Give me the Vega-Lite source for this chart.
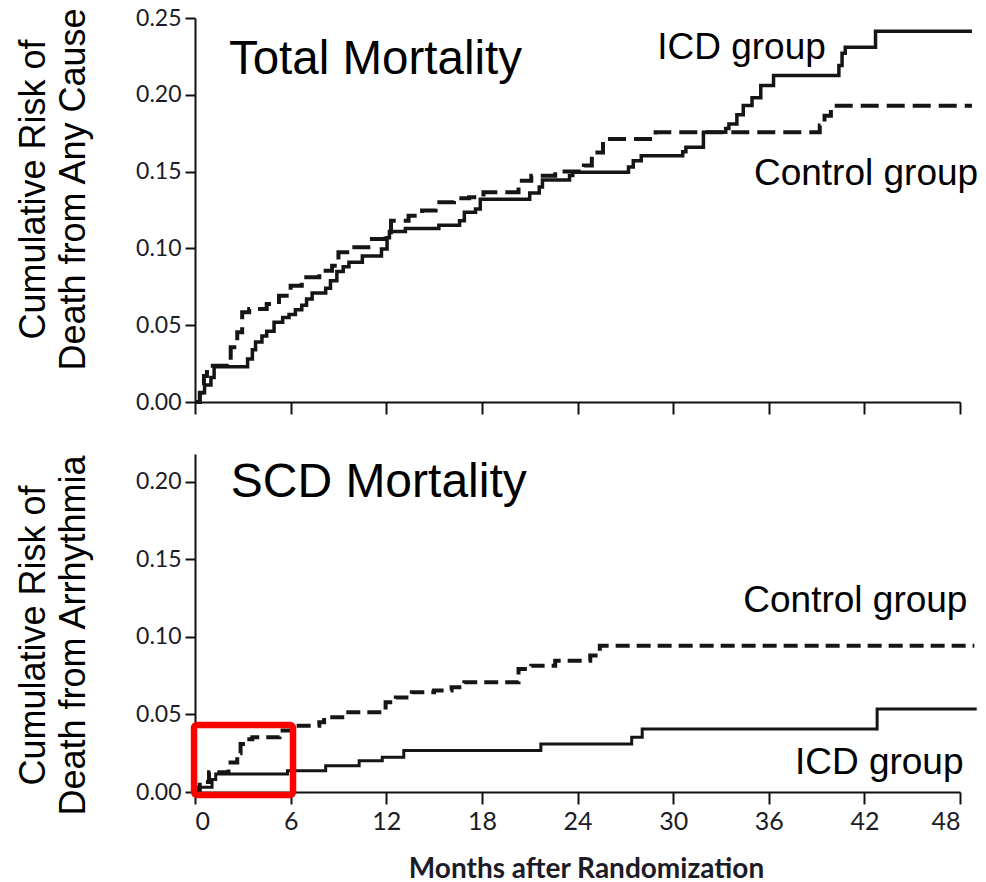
{
  "$schema": "https://vega.github.io/schema/vega-lite/v6.json",
  "background": "white",
  "padding": {"left": 15, "top": 6, "right": 4, "bottom": 0},
  "spacing": 38,
  "config": {
    "view": {"stroke": null},
    "axis": {"domainColor": "#111", "domainWidth": 2, "tickColor": "#111", "tickWidth": 2, "grid": false, "labelFont": "Lato", "labelColor": "#1c1c28"},
    "text": {"font": "Liberation Sans", "color": "#000"}
  },
  "datasets": {
    "total": [
      {"group": "ICD", "month": 0, "risk": 0},
      {"group": "ICD", "month": 0.3, "risk": 0.006},
      {"group": "ICD", "month": 0.6, "risk": 0.011},
      {"group": "ICD", "month": 1.0, "risk": 0.016},
      {"group": "ICD", "month": 1.2, "risk": 0.023},
      {"group": "ICD", "month": 3.3, "risk": 0.028},
      {"group": "ICD", "month": 3.6, "risk": 0.034},
      {"group": "ICD", "month": 3.8, "risk": 0.039},
      {"group": "ICD", "month": 4.2, "risk": 0.043},
      {"group": "ICD", "month": 4.5, "risk": 0.046},
      {"group": "ICD", "month": 4.96, "risk": 0.052},
      {"group": "ICD", "month": 5.5, "risk": 0.055},
      {"group": "ICD", "month": 5.9, "risk": 0.057},
      {"group": "ICD", "month": 6.3, "risk": 0.06},
      {"group": "ICD", "month": 6.7, "risk": 0.063},
      {"group": "ICD", "month": 7.0, "risk": 0.067},
      {"group": "ICD", "month": 7.35, "risk": 0.071},
      {"group": "ICD", "month": 8.2, "risk": 0.074},
      {"group": "ICD", "month": 8.5, "risk": 0.079},
      {"group": "ICD", "month": 8.9, "risk": 0.085},
      {"group": "ICD", "month": 9.3, "risk": 0.088},
      {"group": "ICD", "month": 9.66, "risk": 0.091},
      {"group": "ICD", "month": 10.5, "risk": 0.095},
      {"group": "ICD", "month": 11.7, "risk": 0.0996},
      {"group": "ICD", "month": 12.05, "risk": 0.107},
      {"group": "ICD", "month": 12.2, "risk": 0.111},
      {"group": "ICD", "month": 13.2, "risk": 0.113},
      {"group": "ICD", "month": 15.3, "risk": 0.115},
      {"group": "ICD", "month": 16.6, "risk": 0.118},
      {"group": "ICD", "month": 16.9, "risk": 0.1235},
      {"group": "ICD", "month": 17.6, "risk": 0.1257},
      {"group": "ICD", "month": 17.9, "risk": 0.132},
      {"group": "ICD", "month": 21.0, "risk": 0.136},
      {"group": "ICD", "month": 21.6, "risk": 0.14},
      {"group": "ICD", "month": 21.8, "risk": 0.1445},
      {"group": "ICD", "month": 23.5, "risk": 0.1475},
      {"group": "ICD", "month": 23.7, "risk": 0.1495},
      {"group": "ICD", "month": 27.2, "risk": 0.153},
      {"group": "ICD", "month": 27.5, "risk": 0.157},
      {"group": "ICD", "month": 28.0, "risk": 0.1604},
      {"group": "ICD", "month": 30.6, "risk": 0.163},
      {"group": "ICD", "month": 30.8, "risk": 0.1658},
      {"group": "ICD", "month": 31.9, "risk": 0.1756},
      {"group": "ICD", "month": 33.3, "risk": 0.178},
      {"group": "ICD", "month": 33.5, "risk": 0.181},
      {"group": "ICD", "month": 34.0, "risk": 0.187},
      {"group": "ICD", "month": 34.4, "risk": 0.193},
      {"group": "ICD", "month": 34.95, "risk": 0.198},
      {"group": "ICD", "month": 35.5, "risk": 0.206},
      {"group": "ICD", "month": 36.3, "risk": 0.2125},
      {"group": "ICD", "month": 40.4, "risk": 0.219},
      {"group": "ICD", "month": 40.6, "risk": 0.227},
      {"group": "ICD", "month": 40.8, "risk": 0.2309},
      {"group": "ICD", "month": 42.7, "risk": 0.2413},
      {"group": "ICD", "month": 48.75, "risk": 0.2413},
      {"group": "Control", "month": 0, "risk": 0},
      {"group": "Control", "month": 0.3, "risk": 0.006},
      {"group": "Control", "month": 0.56, "risk": 0.017},
      {"group": "Control", "month": 0.75, "risk": 0.0236},
      {"group": "Control", "month": 2.24, "risk": 0.0356},
      {"group": "Control", "month": 2.65, "risk": 0.0454},
      {"group": "Control", "month": 2.96, "risk": 0.0584},
      {"group": "Control", "month": 3.4, "risk": 0.0605},
      {"group": "Control", "month": 4.5, "risk": 0.0638},
      {"group": "Control", "month": 5.27, "risk": 0.0692},
      {"group": "Control", "month": 6.0, "risk": 0.0757},
      {"group": "Control", "month": 6.7, "risk": 0.0812},
      {"group": "Control", "month": 7.8, "risk": 0.0855},
      {"group": "Control", "month": 8.6, "risk": 0.0887},
      {"group": "Control", "month": 9.0, "risk": 0.0975},
      {"group": "Control", "month": 9.86, "risk": 0.1007},
      {"group": "Control", "month": 11.1, "risk": 0.1061},
      {"group": "Control", "month": 11.95, "risk": 0.1105},
      {"group": "Control", "month": 12.3, "risk": 0.118},
      {"group": "Control", "month": 13.4, "risk": 0.1213},
      {"group": "Control", "month": 14.25, "risk": 0.1246},
      {"group": "Control", "month": 15.1, "risk": 0.13},
      {"group": "Control", "month": 16.25, "risk": 0.1326},
      {"group": "Control", "month": 17.2, "risk": 0.1333},
      {"group": "Control", "month": 18.1, "risk": 0.1365},
      {"group": "Control", "month": 20.3, "risk": 0.144},
      {"group": "Control", "month": 21.1, "risk": 0.1473},
      {"group": "Control", "month": 22.6, "risk": 0.15},
      {"group": "Control", "month": 24.4, "risk": 0.1539},
      {"group": "Control", "month": 24.9, "risk": 0.1625},
      {"group": "Control", "month": 25.6, "risk": 0.1712},
      {"group": "Control", "month": 28.9, "risk": 0.1756},
      {"group": "Control", "month": 39.2, "risk": 0.18},
      {"group": "Control", "month": 39.5, "risk": 0.1864},
      {"group": "Control", "month": 39.9, "risk": 0.1929},
      {"group": "Control", "month": 48.75, "risk": 0.1929}
    ],
    "scd": [
      {"group": "ICD", "month": 0, "risk": 0},
      {"group": "ICD", "month": 0.2, "risk": 0.003},
      {"group": "ICD", "month": 1.07, "risk": 0.008},
      {"group": "ICD", "month": 1.3, "risk": 0.0116},
      {"group": "ICD", "month": 5.8, "risk": 0.0137},
      {"group": "ICD", "month": 8.2, "risk": 0.017},
      {"group": "ICD", "month": 10.3, "risk": 0.0202},
      {"group": "ICD", "month": 11.75, "risk": 0.0224},
      {"group": "ICD", "month": 13.1, "risk": 0.0267},
      {"group": "ICD", "month": 21.7, "risk": 0.031},
      {"group": "ICD", "month": 27.4, "risk": 0.0353},
      {"group": "ICD", "month": 28.06, "risk": 0.0406},
      {"group": "ICD", "month": 42.8, "risk": 0.0535},
      {"group": "ICD", "month": 49.05, "risk": 0.0535},
      {"group": "Control", "month": 0, "risk": 0},
      {"group": "Control", "month": 0.3, "risk": 0.0065},
      {"group": "Control", "month": 0.88, "risk": 0.0127},
      {"group": "Control", "month": 2.1, "risk": 0.019},
      {"group": "Control", "month": 2.65, "risk": 0.025},
      {"group": "Control", "month": 2.86, "risk": 0.031},
      {"group": "Control", "month": 3.17, "risk": 0.034},
      {"group": "Control", "month": 3.6, "risk": 0.0353},
      {"group": "Control", "month": 5.3, "risk": 0.0396},
      {"group": "Control", "month": 6.1, "risk": 0.0428},
      {"group": "Control", "month": 7.8, "risk": 0.045},
      {"group": "Control", "month": 8.1, "risk": 0.0482},
      {"group": "Control", "month": 9.4, "risk": 0.0514},
      {"group": "Control", "month": 11.96, "risk": 0.0579},
      {"group": "Control", "month": 12.6, "risk": 0.061},
      {"group": "Control", "month": 13.6, "risk": 0.0643},
      {"group": "Control", "month": 15.0, "risk": 0.0654},
      {"group": "Control", "month": 16.1, "risk": 0.0675},
      {"group": "Control", "month": 16.9, "risk": 0.0708},
      {"group": "Control", "month": 20.3, "risk": 0.0794},
      {"group": "Control", "month": 21.1, "risk": 0.0815},
      {"group": "Control", "month": 22.6, "risk": 0.0847},
      {"group": "Control", "month": 24.8, "risk": 0.088},
      {"group": "Control", "month": 25.4, "risk": 0.0944},
      {"group": "Control", "month": 48.9, "risk": 0.0944}
    ],
    "totalTitle": [{"text": "Total Mortality", "month": 2.13, "risk": 0.2135}],
    "totalGroups": [
      {"text": "ICD group", "month": 29.0, "risk": 0.2233},
      {"text": "Control group", "month": 35.07, "risk": 0.1413}
    ],
    "scdTitle": [{"text": "SCD Mortality", "month": 2.24, "risk": 0.1903}],
    "scdGroups": [
      {"text": "Control group", "month": 34.4, "risk": 0.1161},
      {"text": "ICD group", "month": 37.64, "risk": 0.0116}
    ],
    "highlight": [{"m0": -0.06, "m1": 6.15, "r0": -0.002, "r1": 0.0432}]
  },
  "vconcat": [
    {
      "width": 765,
      "height": 384,
      "data": {"name": "total"},
      "encoding": {
        "x": {"field": "month", "type": "quantitative", "scale": {"domain": [0, 48], "nice": false},
              "axis": {"values": [0, 6, 12, 18, 24, 30, 36, 42, 48], "labels": false, "tickSize": 12, "title": null}},
        "y": {"field": "risk", "type": "quantitative", "scale": {"domain": [0, 0.25], "nice": false},
              "axis": {"values": [0, 0.05, 0.1, 0.15, 0.2, 0.25], "format": ".2f", "labelFontSize": 23, "tickSize": 10, "labelPadding": 4,
                       "title": ["Cumulative Risk of", "Death from Any Cause"], "titleFont": "Liberation Sans", "titleFontSize": 36, "titleFontWeight": "normal", "titleColor": "#000",
                       "titleLineHeight": 40, "titleX": -143, "titleY": 171, "titleAngle": 270, "titleBaseline": "bottom", "titleAlign": "center"}}
      },
      "layer": [
        {"transform": [{"filter": "datum.group === 'ICD'"}],
         "mark": {"type": "line", "interpolate": "step-after", "color": "#151515", "strokeWidth": 3.5}},
        {"transform": [{"filter": "datum.group === 'Control'"}],
         "mark": {"type": "line", "interpolate": "step-after", "color": "#151515", "strokeWidth": 4, "strokeDash": [18, 8], "strokeCap": "butt"}},
        {"data": {"name": "totalTitle"},
         "mark": {"type": "text", "align": "left", "baseline": "alphabetic", "fontSize": 47.5},
         "encoding": {"text": {"field": "text"}}},
        {"data": {"name": "totalGroups"},
         "mark": {"type": "text", "align": "left", "baseline": "alphabetic", "fontSize": 37},
         "encoding": {"text": {"field": "text"}}}
      ]
    },
    {
      "width": 765,
      "height": 338,
      "data": {"name": "scd"},
      "encoding": {
        "x": {"field": "month", "type": "quantitative", "scale": {"domain": [0, 48], "nice": false},
              "axis": {"values": [0, 6, 12, 18, 24, 30, 36, 42, 48], "labelFontSize": 25, "tickSize": 12, "labelPadding": 5,
                       "title": "Months after Randomization", "titleFont": "Lato", "titleFontSize": 28, "titleFontWeight": "bold", "titleColor": "#1c1c28", "titlePadding": 21, "titleX": 391}},
        "y": {"field": "risk", "type": "quantitative", "scale": {"domain": [0, 0.218], "nice": false},
              "axis": {"values": [0, 0.05, 0.1, 0.15, 0.2], "format": ".2f", "labelFontSize": 23, "tickSize": 10, "labelPadding": 4,
                       "title": ["Cumulative Risk of", "Death from Arrhythmia"], "titleFont": "Liberation Sans", "titleFontSize": 36, "titleFontWeight": "normal", "titleColor": "#000",
                       "titleLineHeight": 40, "titleX": -143, "titleY": 181, "titleAngle": 270, "titleBaseline": "bottom", "titleAlign": "center"}}
      },
      "layer": [
        {"transform": [{"filter": "datum.group === 'ICD'"}],
         "mark": {"type": "line", "interpolate": "step-after", "color": "#151515", "strokeWidth": 3}},
        {"transform": [{"filter": "datum.group === 'Control'"}],
         "mark": {"type": "line", "interpolate": "step-after", "color": "#151515", "strokeWidth": 4, "strokeDash": [14, 7], "strokeCap": "butt"}},
        {"data": {"name": "scdTitle"},
         "mark": {"type": "text", "align": "left", "baseline": "alphabetic", "fontSize": 48},
         "encoding": {"text": {"field": "text"}}},
        {"data": {"name": "scdGroups"},
         "mark": {"type": "text", "align": "left", "baseline": "alphabetic", "fontSize": 37},
         "encoding": {"text": {"field": "text"}}},
        {"data": {"name": "highlight"},
         "mark": {"type": "rect", "filled": false, "color": "#ff0000", "strokeWidth": 6.5, "cornerRadius": 3},
         "encoding": {
           "x": {"field": "m0", "type": "quantitative"},
           "x2": {"field": "m1"},
           "y": {"field": "r0", "type": "quantitative"},
           "y2": {"field": "r1"}
         }}
      ]
    }
  ]
}
